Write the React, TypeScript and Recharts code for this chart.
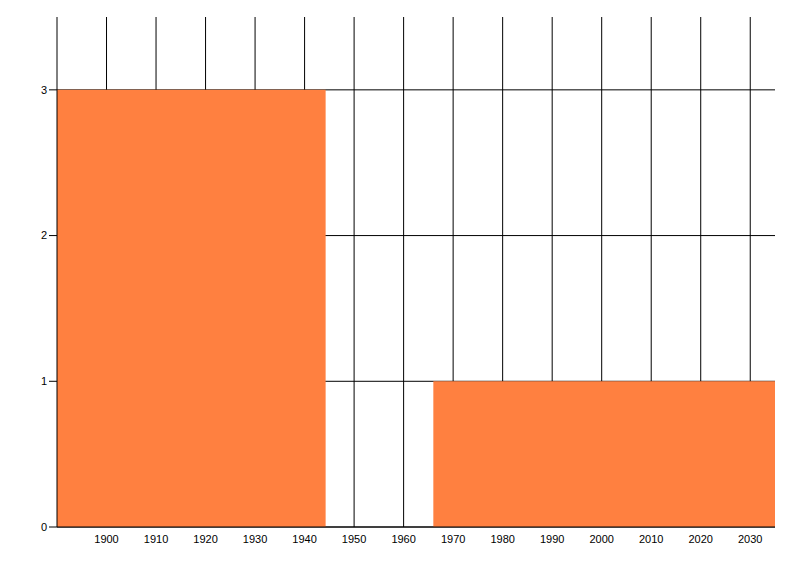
import { Area, CartesianGrid, ComposedChart, XAxis, YAxis } from "recharts";

// histogram bins: left edge of each bin and its count, last edge closes the range
const binStarts = [1890, 1944.25, 1966];
const binCounts = [3, 0, 1];
const rangeEnd = 2035;
const yMax = 3.5;

const xTicks = [1900, 1910, 1920, 1930, 1940, 1950, 1960, 1970, 1980, 1990, 2000, 2010, 2020, 2030];
const yTicks = [0, 1, 2, 3];

const data = [
  ...binStarts.map((year, i) => ({ year, count: binCounts[i] })),
  { year: rangeEnd, count: binCounts[binCounts.length - 1] },
];

const tickStyle = { fill: "#000000", fontSize: 11, fontFamily: "Liberation Sans, Arial, sans-serif" };

// grid only at the tick values, no box round the plot
const gridX = ({ offset }: any) =>
  xTicks.map((t) => offset.left + ((t - binStarts[0]) / (rangeEnd - binStarts[0])) * offset.width);
const gridY = ({ offset }: any) => yTicks.map((t) => offset.top + (1 - t / yMax) * offset.height);

export default function App() {
  return (
    <ComposedChart width={784} height={560} data={data} margin={{ top: 9, right: 17, bottom: 11, left: 0 }}>
      <CartesianGrid
        stroke="#000000"
        strokeWidth={1}
        verticalCoordinatesGenerator={gridX}
        horizontalCoordinatesGenerator={gridY}
      />
      <XAxis
        dataKey="year"
        type="number"
        domain={[binStarts[0], rangeEnd]}
        ticks={xTicks}
        allowDataOverflow
        height={30}
        tickLine={false}
        axisLine={{ stroke: "#000000" }}
        tick={tickStyle}
        interval={0}
      />
      <YAxis
        type="number"
        domain={[0, yMax]}
        ticks={yTicks}
        allowDataOverflow
        width={49}
        tickSize={8}
        tickLine={{ stroke: "#000000" }}
        axisLine={{ stroke: "#000000" }}
        tick={tickStyle}
        interval={0}
      />
      <Area
        type="stepAfter"
        dataKey="count"
        stroke="none"
        fill="#FF8040"
        fillOpacity={1}
        isAnimationActive={false}
        dot={false}
        activeDot={false}
      />
    </ComposedChart>
  );
}
